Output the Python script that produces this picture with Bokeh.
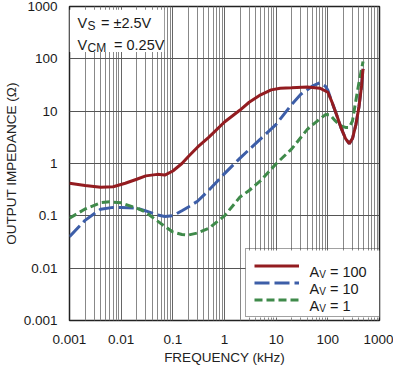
from bokeh.plotting import figure
from bokeh.models import (FixedTicker, CustomJSTickFormatter, Label, BoxAnnotation,
                          Legend, LegendItem, Range1d)
from bokeh.core.properties import value
from bokeh.embed import file_html
from bokeh.resources import INLINE

# ---------------- data ----------------
X_TICKS = [0.001, 0.01, 0.1, 1, 10, 100, 1000]
Y_TICKS = [0.001, 0.01, 0.1, 1, 10, 100, 1000]

f_av100 = [0.001, 0.002, 0.004, 0.007, 0.012, 0.02, 0.03, 0.05, 0.07, 0.1, 0.15, 0.2, 0.3,
           0.5, 1, 2, 3, 5, 8, 12, 20, 40, 70, 100, 120, 150, 180, 220, 260, 300, 350,
           400, 450, 480]
z_av100 = [0.42, 0.38, 0.35, 0.36, 0.42, 0.5, 0.58, 0.62, 0.6, 0.72, 1.0, 1.36, 2.05,
           3.2, 6.2, 10.5, 14.8, 20.5, 25.5, 27.5, 28, 29, 27.5, 23, 15, 8.2, 4.8, 3.0,
           2.4, 3.0, 5.6, 12, 31, 64]

f_av10 = [0.001, 0.002, 0.004, 0.007, 0.01, 0.02, 0.03, 0.05, 0.07, 0.1, 0.15, 0.2, 0.3,
          0.5, 1, 2, 3, 5, 10, 20, 30, 50, 70, 90, 100, 120, 150, 180, 220, 260, 300,
          350, 400, 450, 480]
z_av10 = [0.04, 0.082, 0.134, 0.145, 0.145, 0.14, 0.124, 0.104, 0.097, 0.1, 0.125, 0.148,
          0.19, 0.31, 0.64, 1.27, 1.85, 2.95, 5.6, 13.5, 21, 30, 35, 30, 25, 15, 8.2, 4.8,
          3.0, 2.4, 3.0, 5.6, 12, 31, 64]

f_av1 = [0.001, 0.002, 0.004, 0.006, 0.01, 0.02, 0.03, 0.05, 0.07, 0.1, 0.15, 0.2, 0.3,
         0.5, 1, 2, 3, 5, 10, 20, 40, 70, 90, 110, 140, 180, 220, 260, 300, 340, 400, 480]
z_av1 = [0.09, 0.135, 0.178, 0.185, 0.177, 0.14, 0.117, 0.08, 0.063, 0.049, 0.044, 0.043,
         0.047, 0.058, 0.1, 0.23, 0.305, 0.47, 0.99, 1.9, 4.5, 7.1, 8.6, 8.5, 6.5, 5.2,
         4.9, 4.9, 6.5, 13.8, 35, 89]

GAIN_VALUES = ["100", "10", "1"]
COND_LINES = [("V", "S", "= \u00b12.5V"), ("V", "CM", "= 0.25V")]

RED = "#931c20"
BLUE = "#3d5ea8"
GREEN = "#3f8a4a"
FONT = "Liberation Sans"

# ---------------- figure ----------------
FW, FH = 310, 314
p = figure(frame_width=FW, frame_height=FH, min_border_left=60, min_border_right=14,
           min_border_top=6, min_border_bottom=43,
           x_axis_type="log", y_axis_type="log",
           x_range=Range1d(X_TICKS[0], X_TICKS[-1]), y_range=Range1d(Y_TICKS[0], Y_TICKS[-1]),
           output_backend="svg", toolbar_location=None,
           background_fill_color="white", border_fill_color="white")

minor = [m * 10.0 ** k for k in range(-3, 3) for m in range(2, 10)]
fmt = CustomJSTickFormatter(code="return tick >= 1 ? tick.toFixed(0) : tick.toPrecision(1);")

p.xaxis.ticker = FixedTicker(ticks=X_TICKS, minor_ticks=minor)
p.yaxis.ticker = FixedTicker(ticks=Y_TICKS, minor_ticks=[])
for ax in (p.xaxis, p.yaxis):
    ax.formatter = fmt
    ax.major_tick_line_color = None
    ax.minor_tick_line_color = None
    ax.axis_line_color = None
    ax.major_label_text_font = FONT
    ax.major_label_text_font_size = "13.5px"
    ax.major_label_text_color = "#1a1a1a"
    ax.axis_label_text_font = FONT
    ax.axis_label_text_font_size = "13.5px"
    ax.axis_label_text_font_style = "normal"
    ax.axis_label_text_color = "#222222"

p.xaxis.axis_label = "FREQUENCY (kHz)"
p.yaxis.axis_label = "OUTPUT IMPEDANCE (\u03a9)"
p.xaxis.major_label_standoff = 8
p.xaxis.axis_label_standoff = 3
p.yaxis.major_label_standoff = 6
p.yaxis.axis_label_standoff = 2

p.xgrid.grid_line_color = "#666666"
p.xgrid.grid_line_width = 1
p.xgrid.minor_grid_line_color = "#888888"
p.xgrid.minor_grid_line_width = 1
p.ygrid.grid_line_color = "#555555"
p.ygrid.grid_line_width = 1

p.outline_line_color = "#222222"
p.outline_line_width = 1.5

# ---------------- curves ----------------
r10 = p.line(f_av10, z_av10, line_color=BLUE, line_width=3, line_dash="15 5")
r1 = p.line(f_av1, z_av1, line_color=GREEN, line_width=3, line_dash="8 4")
r100 = p.line(f_av100, z_av100, line_color=RED, line_width=3)

# ---------------- condition box (top-left) ----------------
p.add_layout(BoxAnnotation(left=X_TICKS[0], right=0.068, top=870, bottom=135,
                           fill_color="white", fill_alpha=1.0, line_color=None))


def lab(x, y, xo, yo, text, size, color="#1a1a1a"):
    return Label(x=x, y=y, x_offset=xo, y_offset=yo, text=text, text_font=FONT,
                 text_font_size=size, text_color=color, text_baseline="alphabetic",
                 level="overlay")


cond_base = [-16.5, -38.5]
cond_eq_x = [31.5, 44.5]
for (main, sub, rest), yb, ex in zip(COND_LINES, cond_base, cond_eq_x):
    p.add_layout(lab(X_TICKS[0], Y_TICKS[-1], 8, yb, main, "14.5px"))
    p.add_layout(lab(X_TICKS[0], Y_TICKS[-1], 18, yb - 3, sub, "12px"))
    p.add_layout(lab(X_TICKS[0], Y_TICKS[-1], ex, yb, rest, "14.5px"))

# ---------------- legend ----------------
PAD, GW, GH, STAND, LWID = 8, 45, 17, 11, 62
LEG_W = 2 * PAD + GW + STAND + LWID
LEG_H = 2 * PAD + len(GAIN_VALUES) * GH
LX, LY = FW - LEG_W, 3

# white backing for the (transparent) legend box, so that labels drawn on it stay visible
x0, x1 = X_TICKS[0], X_TICKS[-1]
y0, y1 = Y_TICKS[0], Y_TICKS[-1]
xdec = (len(X_TICKS) - 1)
ydec = (len(Y_TICKS) - 1)
p.add_layout(BoxAnnotation(left=x0 * 10 ** (LX / FW * xdec), right=x1,
                           bottom=y0 * 10 ** (LY / FH * ydec),
                           top=y0 * 10 ** ((LY + LEG_H) / FH * ydec),
                           fill_color="white", fill_alpha=1.0, line_color=None,
                           level="underlay"))

legend = Legend(items=[LegendItem(label=value(" "), renderers=[r]) for r in (r100, r10, r1)],
                location=(LX, LY), padding=PAD, spacing=0, glyph_width=GW, glyph_height=GH,
                label_height=GH, label_width=LWID, label_standoff=STAND,
                label_text_font_size="8px", background_fill_color="white",
                background_fill_alpha=0.0, border_line_color="#444444", border_line_width=1)
p.add_layout(legend)

tx = LX + PAD + GW + STAND
for i, g in enumerate(GAIN_VALUES):
    cy = LY + PAD + (len(GAIN_VALUES) - 1 - i) * GH + GH / 2
    yb = cy - 5
    p.add_layout(lab(X_TICKS[0], Y_TICKS[0], tx, yb, "A", "14.5px"))
    p.add_layout(lab(X_TICKS[0], Y_TICKS[0], tx + 9.7, yb - 2.5, "V", "10px"))
    p.add_layout(lab(X_TICKS[0], Y_TICKS[0], tx + 20.5, yb, "= " + g, "14.5px"))

open("out.html", "w").write(file_html(p, INLINE))
